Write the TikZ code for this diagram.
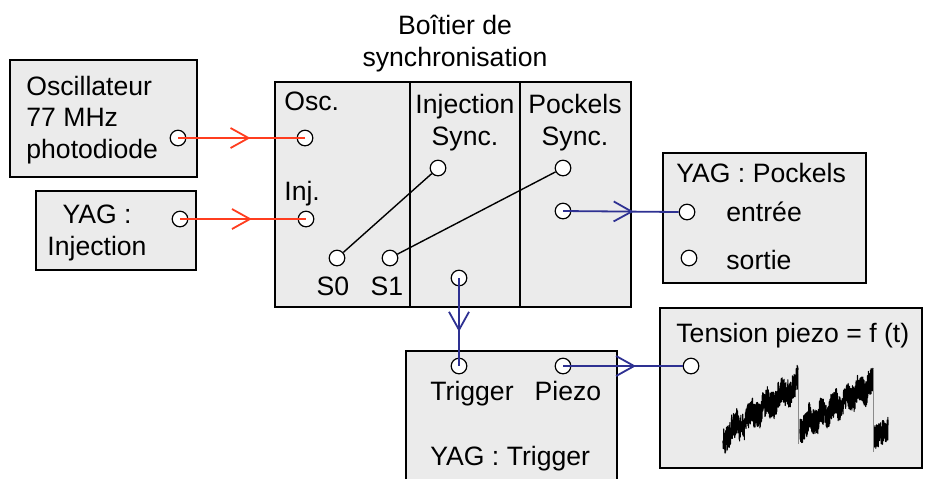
\documentclass[tikz,border=0pt]{standalone}
\usepackage{fontspec}
\setmainfont{Liberation Sans}
\usetikzlibrary{arrows.meta, decorations.markings}
\definecolor{mBoxGray}{HTML}{EBEBEB}
\definecolor{mLinkRed}{HTML}{FF3D1F}
\definecolor{mLinkBlue}{HTML}{2E3192}
\definecolor{mDropGray}{HTML}{8A8A8A}
\tikzset{
  box/.style={draw, fill=mBoxGray, line width=0.7pt},
  port/.style={circle, draw, fill=white, line width=0.6pt, minimum size=7.8pt, inner sep=0pt},
  lbl/.style={inner sep=0pt, font=\fontsize{13.3}{15.75}\selectfont},
  midarrow/.style={postaction={decorate}, decoration={markings,
      mark=at position #1 with {\arrow{Straight Barb[length=9pt, width=10pt]}}}},
  midarrow/.default=0.6,
  redlink/.style={draw=mLinkRed, line width=0.9pt, midarrow=0.57},
  bluelink/.style={draw=mLinkBlue, line width=0.9pt, midarrow=0.61},
  swlink/.style={draw, line width=0.7pt},
  noise/.style={line width=0.55pt, line join=round},
}

\begin{document}
\begin{tikzpicture}[x=0.5pt, y=-0.5pt]
    \useasboundingbox (0,0) rectangle (929,479);
    % boxes
    \draw[box] (10,60) rectangle (197,177);
    \draw[box] (36,191) rectangle (196,270);
    \draw[box] (275,82) rectangle (631,307);
    \draw[line width=0.7pt] (410,82) -- (410,307) (520,82) -- (520,307);
    \draw[box] (663,153) rectangle (866,283);
    \fill[mBoxGray] (406,351) rectangle (617,479);
    \draw[line width=0.7pt] (406,479) |- (617,351) -- (617,479);
    \draw[box] (660,308) rectangle (922,468);

    % texts (multi-line nodes sit on their last line)
    \node[lbl, anchor=base west, align=left] (oscTxt) at (26,158) {Oscillateur\\77 MHz\\photodiode};
    \node[lbl, anchor=base, align=center] (injTxt) at (97,255) {YAG :\\Injection};
    \node[lbl, anchor=base, align=center] (syncTitle) at (455,66) {Bo\^{\i}tier de\\synchronisation};
    \node[lbl, anchor=base west] (syncOscTxt) at (284,110) {Osc.};
    \node[lbl, anchor=base west] (syncInjTxt) at (284,200) {Inj.};
    \node[lbl, anchor=base] (s0Txt) at (333,295) {S0};
    \node[lbl, anchor=base] (s1Txt) at (387,295) {S1};
    \node[lbl, anchor=base, align=center] (injSyncTxt) at (465,145) {Injection\\Sync.};
    \node[lbl, anchor=base, align=center] (pockSyncTxt) at (575,145) {Pockels\\Sync.};
    \node[lbl, anchor=base west] (pockTxt) at (676,182) {YAG : Pockels};
    \node[lbl, anchor=base west] (pockInTxt) at (726,221) {entrée};
    \node[lbl, anchor=base west] (pockOutTxt) at (726,269) {sortie};
    \node[lbl, anchor=base] (trigInTxt) at (472,400) {Trigger};
    \node[lbl, anchor=base] (trigPiezoTxt) at (568,400) {Piezo};
    \node[lbl, anchor=base west] (trigTxt) at (430,465) {YAG : Trigger};
    \node[lbl, anchor=base west] (tensTxt) at (676,342) {Tension piezo = f (t)};

    % ports
    \node[port] (oscOut) at (178,138) {};
    \node[port] (injOut) at (180,219) {};
    \node[port] (syncOsc) at (305,138) {};
    \node[port] (syncInj) at (306,219) {};
    \node[port] (syncS0) at (337,258) {};
    \node[port] (syncS1) at (390,258) {};
    \node[port] (syncInjSync) at (438,168) {};
    \node[port] (syncPockSync) at (563,168) {};
    \node[port] (syncPockOut) at (563,211) {};
    \node[port] (syncTrig) at (459,278) {};
    \node[port] (pockIn) at (687,212) {};
    \node[port] (pockOut) at (689,258) {};
    \node[port] (trigIn) at (459,366) {};
    \node[port] (trigPiezo) at (563,366) {};
    \node[port] (tensIn) at (691,366) {};

    % links
    \draw[redlink] (oscOut.center) -- (syncOsc.center);
    \draw[redlink] (injOut.center) -- (syncInj.center);
    \draw[swlink] (syncS0) -- (syncInjSync);
    \draw[swlink] (syncS1) -- (syncPockSync);
    \draw[bluelink] (syncPockOut.center) -- (pockIn.west);
    \draw[bluelink] (syncTrig.center) -- (trigIn.center);
    \draw[bluelink] (trigPiezo.center) -- (tensIn.west);

    % piezo signal
    \pgfmathsetseed{41}
    \draw[noise] plot[domain=0:75, samples=700, variable=\t]
      (723+\t, {437-54*\t/75 + 13*rand + 5*sin(\t*23) + 2*sin(\t*71)});
    \draw[noise] plot[domain=0:73, samples=700, variable=\t]
      (800+\t, {428-45*\t/73 + 13*rand + 5*sin(\t*29) + 2*sin(\t*67)});
    \draw[noise] plot[domain=0:14, samples=140, variable=\t]
      (874+\t, {438-9*\t/14 + 12*rand});
    \draw[mDropGray, line width=0.4pt] (798,374) -- (798,444) (873,370) -- (873,452);
  \end{tikzpicture}
\end{document}
